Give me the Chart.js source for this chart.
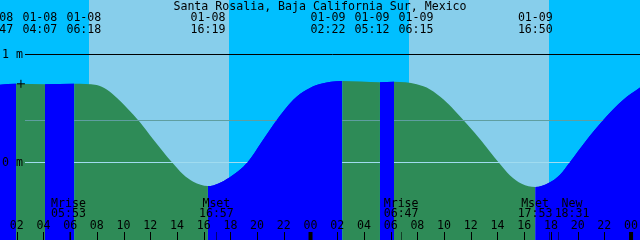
<!DOCTYPE html>
<html lang="en">
<head>
<meta charset="UTF-8">
<title>Santa Rosalia, Baja California Sur, Mexico</title>
<style>
body { margin: 0; background: #fff; }
div { width: 640px; height: 240px; }
</style>
</head>
<body>
<div><canvas id="tideChart" width="640" height="240"></canvas></div>

<script src="https://cdn.jsdelivr.net/npm/chart.js"></script>
<script>
// hours counted from 01-08 00:00, levels in metres
const tideHours  = [0.70, 1.95, 4.12, 6.30, 7.99, 8.74, 9.49, 10.24, 11.23, 12.23, 13.61, 14.47, 15.22, 16.32,
                    17.90, 19.30, 20.35, 21.47, 22.71, 23.71, 24.71, 26.37, 29.20, 30.25, 31.95, 32.95,
                    33.94, 34.82, 35.69, 36.82, 38.06, 38.94, 39.81, 40.83, 41.86, 42.68, 43.43, 44.63,
                    45.92, 47.42, 48.70];
const tideLevels = [0.715, 0.724, 0.719, 0.725, 0.713, 0.672, 0.595, 0.503, 0.369, 0.209, 0.000, -0.115, -0.182, -0.222,
                    -0.145, 0.000, 0.188, 0.389, 0.577, 0.669, 0.722, 0.750, 0.739, 0.742, 0.719, 0.672,
                    0.580, 0.472, 0.355, 0.193, 0.000, -0.124, -0.201, -0.231, -0.192, -0.118, 0.000, 0.197,
                    0.389, 0.577, 0.693];

const eventDates = ['01-08', '01-08', '01-08', '01-08', '01-09', '01-09', '01-09', '01-09'];
const eventTimes = ['00:47', '04:07', '06:18', '16:19', '02:22', '05:12', '06:15', '16:50'];

const moonNames = ['Mrise', 'Mset', 'Mrise', 'Mset', 'New'];
const moonDates = ['01-08', '01-08', '01-09', '01-09', '01-09'];
const moonTimes = ['05:53', '16:57', '06:47', '17:53', '18:31'];

const sunDates = ['01-08', '01-08', '01-09', '01-09'];
const sunTimes = ['07:25', '17:53', '07:22', '17:52'];   // rise, set, rise, set

const datumLevels = [1, 0.39, 0];
const datumLabels = ['1 m', '', '0 m'];

const nowDate = '01-08', nowTime = '02:19', nowLevel = 0.724;

const title = 'Santa Rosalia, Baja California Sur, Mexico';

const NIGHT = '#00bfff', DAY = '#87ceeb', RISE = '#0000ff', FALL = '#2e8b57';
const FONT = '11.6px "DejaVu Sans Mono", monospace';

function toHours(d, t) {
    let day = parseInt(d.split('-')[1]) - 8;
    let p = t.split(':');
    return day * 24 + parseInt(p[0]) + parseInt(p[1]) / 60;
}

// push overlapping labels apart, keeping each group centred on its events
function spread(xs, gap) {
    let groups = xs.map(x => ({sum: x, n: 1}));
    let merged = true;
    while (merged) {
        merged = false;
        for (let i = 0; i < groups.length - 1; i++) {
            let a = groups[i], b = groups[i + 1];
            let aRight = a.sum / a.n + (a.n - 1) / 2 * gap;
            let bLeft = b.sum / b.n - (b.n - 1) / 2 * gap;
            if (bLeft - aRight < gap) {
                groups.splice(i, 2, {sum: a.sum + b.sum, n: a.n + b.n});
                merged = true;
                break;
            }
        }
    }
    let out = [];
    groups.forEach(g => {
        let c = g.sum / g.n;
        for (let k = 0; k < g.n; k++) out.push(c + (k - (g.n - 1) / 2) * gap);
    });
    return out;
}

const tidePoints = tideHours.map((h, i) => ({x: h, y: tideLevels[i]}));
const rising = c => c.p1.parsed.y > c.p0.parsed.y;

const skyPlugin = {
    id: 'sky',
    beforeDatasetsDraw(chart) {
        const {ctx, chartArea: a, scales: {x}} = chart;
        ctx.save();
        ctx.fillStyle = NIGHT;
        ctx.fillRect(a.left, a.top, a.width, a.height);
        ctx.fillStyle = DAY;
        for (let i = 0; i < sunTimes.length; i += 2) {
            let x0 = Math.round(x.getPixelForValue(toHours(sunDates[i], sunTimes[i])));
            let x1 = Math.round(x.getPixelForValue(toHours(sunDates[i + 1], sunTimes[i + 1])));
            ctx.fillRect(x0, a.top, x1 - x0, a.height);
        }
        ctx.restore();
    },
    afterDatasetDraw(chart, args) {
        if (args.index !== 0) return;
        // datum lines sit on top of the ebb water but under the flood water
        const {ctx, chartArea: a, scales: {y}} = chart;
        const colors = ['#000000', '#5f9ea0', '#a0dcf0'];
        ctx.save();
        ctx.lineWidth = 1;
        datumLevels.forEach((lv, i) => {
            let py = Math.round(y.getPixelForValue(lv)) + 0.5;
            ctx.strokeStyle = colors[i];
            ctx.beginPath();
            ctx.moveTo(a.left + 25, py);
            ctx.lineTo(a.right, py);
            ctx.stroke();
        });
        ctx.restore();
    },
    afterDraw(chart) {
        const {ctx, chartArea: a, scales: {x, y}} = chart;
        ctx.save();
        ctx.font = FONT;
        ctx.fillStyle = '#000';
        ctx.textBaseline = 'alphabetic';

        ctx.textAlign = 'center';
        ctx.fillText(title, (a.left + a.right) / 2, 10);

        // high / low water labels
        let ex = spread(eventTimes.map((t, i) => x.getPixelForValue(toHours(eventDates[i], t))), 44);
        ex.forEach((px, i) => {
            ctx.fillText(eventDates[i], px, 21);
            ctx.fillText(eventTimes[i], px, 33);
        });

        // datum labels
        ctx.textAlign = 'left';
        datumLabels.forEach((s, i) => {
            if (s) ctx.fillText(s, a.left + 2, y.getPixelForValue(datumLevels[i]) + 4);
        });

        // hour ticks
        ctx.textAlign = 'center';
        ctx.strokeStyle = '#000';
        for (let h = 0; h <= 48; h += 2) {
            let px = x.getPixelForValue(h);
            if (px < a.left - 10 || px > a.right + 10) continue;
            ctx.lineWidth = h % 24 === 0 ? 4 : 1;
            let sx = h % 24 === 0 ? px : Math.round(px) + 0.5;
            ctx.beginPath();
            ctx.moveTo(sx, 232);
            ctx.lineTo(sx, a.bottom);
            ctx.stroke();
            ctx.fillText(String(h % 24).padStart(2, '0'), px, 229);
        }

        // moon events
        let mx = moonTimes.map((t, i) => x.getPixelForValue(toHours(moonDates[i], t)));
        ctx.strokeStyle = 'rgba(0,0,0,0.55)';
        ctx.lineWidth = 1;
        mx.forEach(px => {
            ctx.beginPath();
            ctx.moveTo(Math.round(px) + 0.5, 232);
            ctx.lineTo(Math.round(px) + 0.5, a.bottom);
            ctx.stroke();
        });
        spread(mx, 37).forEach((px, i) => {
            ctx.fillText(moonNames[i], px, 207);
            ctx.fillText(moonTimes[i], px, 217);
        });
        ctx.restore();
    }
};

new Chart(document.getElementById('tideChart'), {
    type: 'line',
    data: {
        datasets: [{
            data: tidePoints,
            order: 3,
            fill: 'start',
            backgroundColor: FALL,
            borderColor: 'rgba(0,0,0,0)',
            borderWidth: 0,
            pointRadius: 0,
            cubicInterpolationMode: 'monotone',
            segment: { backgroundColor: c => rising(c) ? RISE : FALL }
        }, {
            data: tidePoints,
            order: 2,
            fill: 'start',
            backgroundColor: 'rgba(0,0,0,0)',
            borderColor: 'rgba(0,0,0,0)',
            borderWidth: 0,
            pointRadius: 0,
            cubicInterpolationMode: 'monotone',
            segment: { backgroundColor: c => rising(c) ? RISE : 'rgba(0,0,0,0)' }
        }, {
            type: 'scatter',
            data: [{x: toHours(nowDate, nowTime), y: nowLevel}],
            order: 1,
            pointStyle: 'cross',
            pointRadius: 4,
            borderColor: '#000',
            borderWidth: 1
        }]
    },
    options: {
        responsive: false,
        animation: false,
        layout: { padding: 0, autoPadding: false },
        plugins: { legend: { display: false }, tooltip: { enabled: false } },
        scales: {
            x: { type: 'linear', min: 0.749, max: 48.67, display: false },
            y: { type: 'linear', min: -0.7222, max: 1.5, display: false }
        }
    },
    plugins: [skyPlugin]
});
</script>
</body>
</html>
